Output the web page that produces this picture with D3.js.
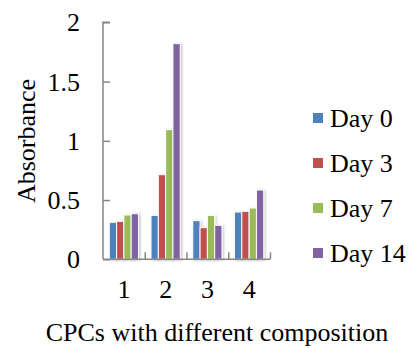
<!DOCTYPE html>
<html><head><meta charset="utf-8">
<script src="https://cdn.jsdelivr.net/npm/d3@7"></script>
<style>body{margin:0;background:#fff;} svg{display:block;}</style>
</head><body>
<svg id="c" width="408" height="348"></svg>
<script>
const categories = ["1","2","3","4"];
const seriesNames = ["Day 0","Day 3","Day 7","Day 14"];
const day0  = [0.312, 0.371, 0.326, 0.399];
const day3  = [0.320, 0.714, 0.267, 0.405];
const day7  = [0.374, 1.094, 0.371, 0.433];
const day14 = [0.385, 1.820, 0.287, 0.585];
const colors = ["#4F81BD","#C0504D","#9BBB59","#8064A2"];
const yTicks = [0, 0.5, 1, 1.5, 2];
const yTickLabels = ["0","0.5","1","1.5","2"];

const series = [day0, day3, day7, day14];
const font = "'Liberation Serif','Times New Roman',serif";
const svg = d3.select("#c");
const m = {left:103, right:270, top:22.3, bottom:259.3};

const defs = svg.append("defs");
const f = defs.append("filter").attr("id","sh").attr("x","-50%").attr("y","-10%").attr("width","200%").attr("height","130%");
f.append("feDropShadow").attr("dx",1.2).attr("dy",0.6).attr("stdDeviation",1.2).attr("flood-color","#000").attr("flood-opacity",0.25);

const x0 = d3.scaleBand().domain(categories).range([m.left, m.right]).paddingInner(0.3).paddingOuter(0.15);
const x1 = d3.scaleBand().domain(seriesNames).range([0, x0.bandwidth()]).padding(0);
const y = d3.scaleLinear().domain([0,2]).range([m.bottom, m.top]);

// bars
const g = svg.append("g");
categories.forEach((c, ci) => {
  seriesNames.forEach((s, si) => {
    const v = series[si][ci];
    g.append("rect")
      .attr("x", x0(c) + x1(s))
      .attr("y", y(v))
      .attr("width", x1.bandwidth())
      .attr("height", y(0) - y(v))
      .attr("fill", colors[si])
      .attr("stroke", "#fff")
      .attr("stroke-width", 1)
      .attr("filter", "url(#sh)");
  });
});

// y axis
const yAxis = d3.axisRight(y).tickValues(yTicks).tickSize(7).tickFormat("");
const ya = svg.append("g").attr("transform", `translate(${m.left},0)`).call(yAxis);
ya.select(".domain").attr("stroke","#868686").attr("stroke-width",1.5).attr("d", `M7,${m.top}H0V${m.bottom}`);
ya.selectAll(".tick line").attr("stroke","#868686").attr("stroke-width",1.5);
svg.append("g").selectAll("text").data(yTicks).join("text")
  .attr("x", 80).attr("y", d => y(d)).attr("dy","0.35em")
  .attr("text-anchor","end").attr("font-family", font).attr("font-size", 26).attr("fill","#000")
  .text((d,i) => yTickLabels[i]);

// x axis
const xBound = d3.scaleLinear().domain([0,4]).range([m.left, m.right]);
const xa = svg.append("g").attr("transform", `translate(0,${m.bottom})`)
  .call(d3.axisTop(xBound).tickValues([1,2,3,4]).tickSize(7).tickFormat(""));
xa.select(".domain").attr("stroke","#868686").attr("stroke-width",1.5).attr("d", `M${m.left},0H${m.right}`);
xa.selectAll(".tick line").attr("stroke","#868686").attr("stroke-width",1.5);
svg.append("g").selectAll("text").data(categories).join("text")
  .attr("x", d => x0(d) + x0.bandwidth()/2).attr("y", 298)
  .attr("text-anchor","middle").attr("font-family", font).attr("font-size", 26).attr("fill","#000")
  .text(d => d);

// axis titles
svg.append("text").attr("transform","translate(35,141) rotate(-90)")
  .attr("text-anchor","middle").attr("font-family", font).attr("font-size", 26).text("Absorbance");
svg.append("text").attr("x", 217).attr("y", 341)
  .attr("text-anchor","middle").attr("font-family", font).attr("font-size", 26).text("CPCs with different composition");

// legend
const lg = svg.append("g");
seriesNames.forEach((s, i) => {
  const cy = 118 + i*45;
  lg.append("rect").attr("x", 313).attr("y", cy-5).attr("width", 10).attr("height", 10).attr("fill", colors[i]);
  lg.append("text").attr("x", 330).attr("y", cy).attr("dy","0.35em")
    .attr("font-family", font).attr("font-size", 26).text(s);
});
</script>
</body></html>
